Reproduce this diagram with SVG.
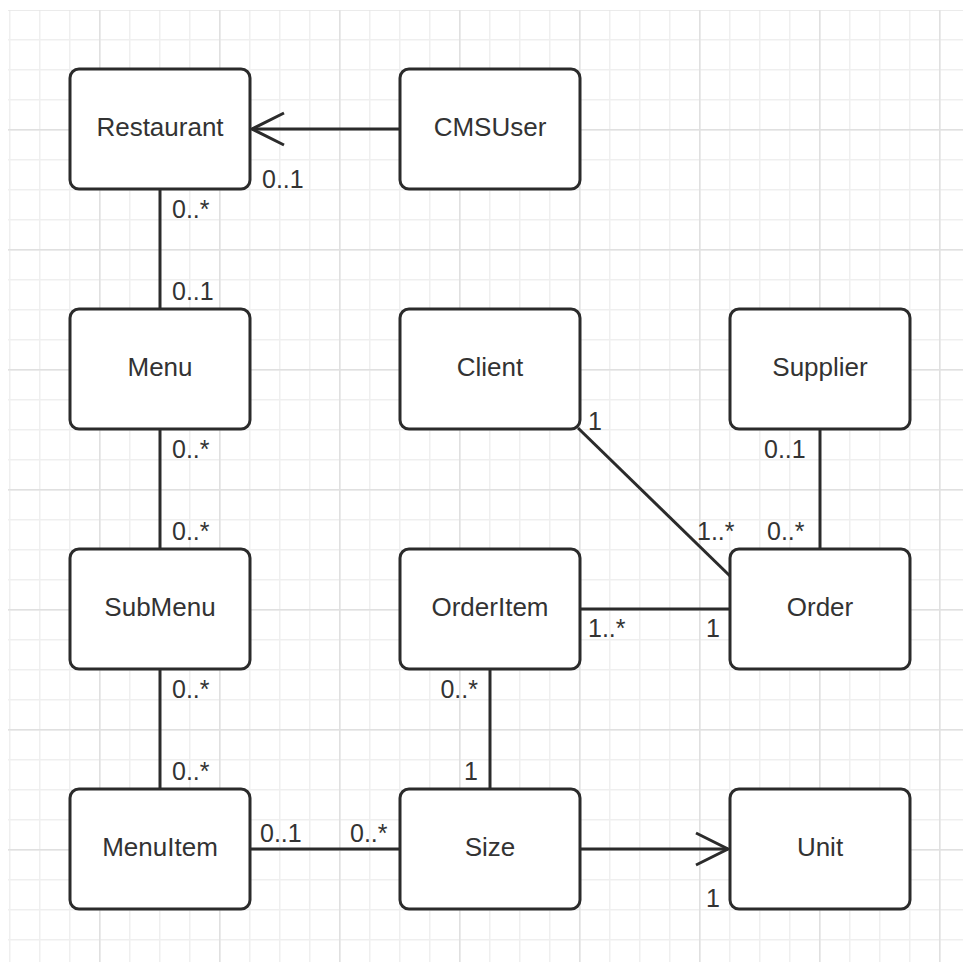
<svg xmlns="http://www.w3.org/2000/svg" width="963" height="962" viewBox="0 0 963 962">
  <style>
    .box { fill: #ffffff; stroke: #2b2b2b; stroke-width: 3; }
    .name { font-family: "Liberation Sans", Arial, sans-serif; font-size: 26px; fill: #333333; text-anchor: middle; }
    .lbl { font-family: "Liberation Sans", Arial, sans-serif; font-size: 25px; fill: #333333; }
    .end { text-anchor: end; }
    .conn { fill: none; stroke: #2b2b2b; stroke-width: 3; }
  </style>
  <defs>
    <pattern id="minor" patternUnits="userSpaceOnUse" x="9" y="9" width="30" height="30">
      <rect x="0" y="0" width="30" height="1.5" fill="#efefef"/>
      <rect x="0" y="0" width="1.5" height="30" fill="#efefef"/>
    </pattern>
    <pattern id="major" patternUnits="userSpaceOnUse" x="99" y="129" width="120" height="120">
      <rect x="0" y="0" width="120" height="1.5" fill="#e0e0e0"/>
      <rect x="0" y="0" width="1.5" height="120" fill="#e0e0e0"/>
    </pattern>
    <marker id="open" viewBox="0 0 20 20" refX="18" refY="10" markerWidth="20" markerHeight="20" markerUnits="userSpaceOnUse" orient="auto" overflow="visible">
      <path d="M-14 -6 L18 10 L-14 26" fill="none" stroke="#2b2b2b" stroke-width="3"/>
    </marker>
  </defs>
  <rect x="0" y="0" width="963" height="962" fill="#ffffff"/>
  <rect x="8" y="10" width="955" height="952" fill="url(#minor)"/>
  <rect x="8" y="10" width="955" height="952" fill="url(#major)"/>

  <g id="connectors">
    <line class="conn" x1="400" y1="129" x2="252" y2="129" marker-end="url(#open)"/>
    <line class="conn" x1="160" y1="189" x2="160" y2="309"/>
    <line class="conn" x1="160" y1="429" x2="160" y2="549"/>
    <line class="conn" x1="160" y1="669" x2="160" y2="789"/>
    <line class="conn" x1="250" y1="849" x2="400" y2="849"/>
    <line class="conn" x1="580" y1="849" x2="728" y2="849" marker-end="url(#open)"/>
    <line class="conn" x1="490" y1="669" x2="490" y2="789"/>
    <line class="conn" x1="580" y1="609" x2="730" y2="609"/>
    <line class="conn" x1="578" y1="428" x2="730" y2="576"/>
    <line class="conn" x1="820" y1="429" x2="820" y2="549"/>
    <text class="lbl" x="262" y="188">0..1</text>
    <text class="lbl" x="172" y="218">0..*</text>
    <text class="lbl" x="172" y="300">0..1</text>
    <text class="lbl" x="172" y="458">0..*</text>
    <text class="lbl" x="172" y="540">0..*</text>
    <text class="lbl" x="172" y="698">0..*</text>
    <text class="lbl" x="172" y="780">0..*</text>
    <text class="lbl" x="260" y="842">0..1</text>
    <text class="lbl" x="350" y="842">0..*</text>
    <text class="lbl end" x="478" y="698">0..*</text>
    <text class="lbl end" x="478" y="780">1</text>
    <text class="lbl" x="588" y="430">1</text>
    <text class="lbl" x="697" y="540">1..*</text>
    <text class="lbl" x="767" y="540">0..*</text>
    <text class="lbl" x="764" y="458">0..1</text>
    <text class="lbl" x="588" y="637">1..*</text>
    <text class="lbl end" x="720" y="637">1</text>
    <text class="lbl end" x="720" y="907">1</text>
  </g>

  <g id="Restaurant"><rect class="box" x="70" y="69" width="180" height="120" rx="9"/><text class="name" x="160" y="136">Restaurant</text></g>
  <g id="CMSUser"><rect class="box" x="400" y="69" width="180" height="120" rx="9"/><text class="name" x="490" y="136">CMSUser</text></g>
  <g id="Menu"><rect class="box" x="70" y="309" width="180" height="120" rx="9"/><text class="name" x="160" y="376">Menu</text></g>
  <g id="Client"><rect class="box" x="400" y="309" width="180" height="120" rx="9"/><text class="name" x="490" y="376">Client</text></g>
  <g id="Supplier"><rect class="box" x="730" y="309" width="180" height="120" rx="9"/><text class="name" x="820" y="376">Supplier</text></g>
  <g id="SubMenu"><rect class="box" x="70" y="549" width="180" height="120" rx="9"/><text class="name" x="160" y="616">SubMenu</text></g>
  <g id="OrderItem"><rect class="box" x="400" y="549" width="180" height="120" rx="9"/><text class="name" x="490" y="616">OrderItem</text></g>
  <g id="Order"><rect class="box" x="730" y="549" width="180" height="120" rx="9"/><text class="name" x="820" y="616">Order</text></g>
  <g id="MenuItem"><rect class="box" x="70" y="789" width="180" height="120" rx="9"/><text class="name" x="160" y="856">MenuItem</text></g>
  <g id="Size"><rect class="box" x="400" y="789" width="180" height="120" rx="9"/><text class="name" x="490" y="856">Size</text></g>
  <g id="Unit"><rect class="box" x="730" y="789" width="180" height="120" rx="9"/><text class="name" x="820" y="856">Unit</text></g>
</svg>
